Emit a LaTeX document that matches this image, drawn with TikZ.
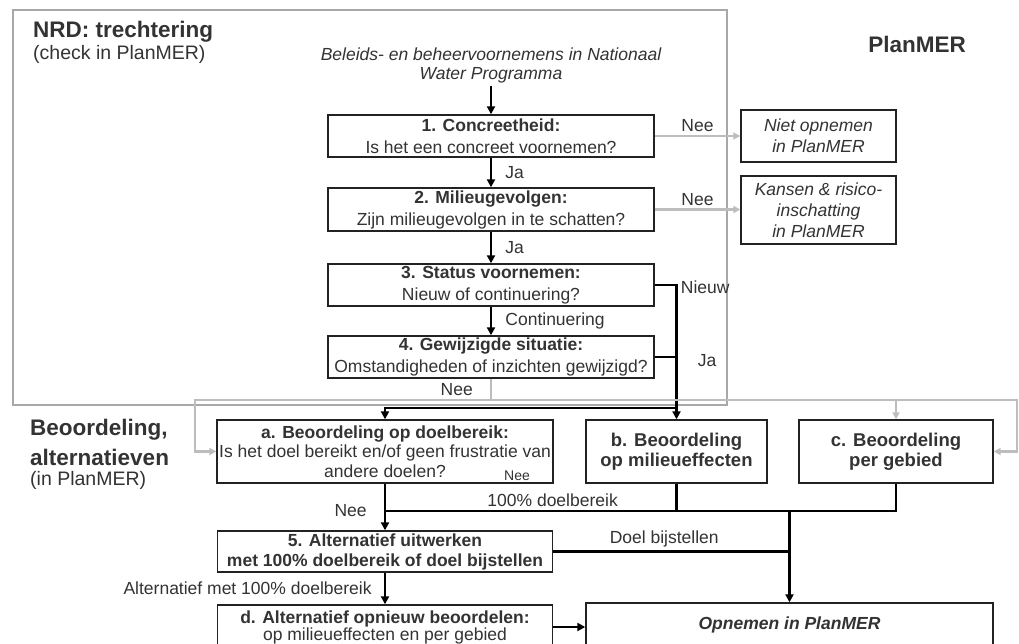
\documentclass[tikz,border=0pt]{standalone}
\usepackage{fontspec}
\setmainfont{Liberation Sans}
\usepackage{tikz}
\usetikzlibrary{arrows.meta}
\definecolor{txtgray}{HTML}{333333}
\definecolor{boxgray}{HTML}{222222}
\definecolor{linegray}{HTML}{BDBDBD}
\definecolor{framegray}{HTML}{A8A8A8}
\newcommand{\fs}[2]{\fontsize{#1}{#2}\selectfont}
\tikzset{
  box/.style={draw=boxgray, line width=1.4pt, rectangle, align=center, inner sep=1pt, text=txtgray, font=\fs{17.5}{22}},
  sidebox/.style={box, font=\fs{17.5}{21}\itshape},
  lbl/.style={text=txtgray, font=\fs{17.5}{20}, inner sep=3pt},
  blk/.style={black, line width=2.8pt, -{Triangle[length=8pt,width=8pt]}},
  blkline/.style={black, line width=2.8pt},
  gry/.style={linegray, line width=2.4pt, -{Triangle[length=7pt,width=7pt]}},
  gryline/.style={linegray, line width=2.4pt},
  title/.style={anchor=west, inner sep=0pt, text=txtgray, font=\fs{22.5}{26}\bfseries}
}

\begin{document}
\begin{tikzpicture}[x=1pt,y=-1pt]
  \clip (0,0) rectangle (1019,644);
  \fill[white] (0,0) rectangle (1019,644);

  % grey frame of the NRD part
  \draw[framegray, line width=1.5pt] (13,10) rectangle (727,405);

  % titles
  \node[title] (nrd) at (33,32) {NRD: trechtering};
  \node[title, font=\fs{19.5}{22}] (nrdsub) at (33,54) {(check in PlanMER)};
  \node[title, anchor=center] (pm) at (917,44) {PlanMER};
  \node[title] (beo1) at (30,430) {Beoordeling,};
  \node[title] (beo2) at (30,457) {alternatieven};
  \node[title, font=\fs{19.5}{22}] (beo3) at (30,480) {(in PlanMER)};

  % coordinates for the nodes
  \node[lbl, align=center, font=\fs{17.5}{19}\itshape] (inp) at (491,65) {Beleids- en beheervoornemens in Nationaal\\Water Programma};
  \node[box, minimum width=326pt, minimum height=42pt] (s1) at (491,136) {\textbf{1. Concreetheid:}\\Is het een concreet voornemen?};
  \node[box, minimum width=326pt, minimum height=43pt] (s2) at (491,209.5) {\textbf{2. Milieugevolgen:}\\Zijn milieugevolgen in te schatten?};
  \node[box, minimum width=326pt, minimum height=42pt] (s3) at (491,285) {\textbf{3. Status voornemen:}\\Nieuw of continuering?};
  \node[box, minimum width=326pt, minimum height=42pt] (s4) at (491,357) {\textbf{4. Gewijzigde situatie:}\\Omstandigheden of inzichten gewijzigd?};
  \node[sidebox, minimum width=155pt, minimum height=52pt] (niet) at (818.5,136) {Niet opnemen\\in PlanMER};
  \node[sidebox, minimum width=155pt, minimum height=68pt] (kans) at (818.5,210) {Kansen \& risico-\\inschatting\\in PlanMER};

  \node[box, font=\fs{17.5}{19.5}, minimum width=336pt, minimum height=63pt] (ba) at (385,451.5) {\textbf{a. Beoordeling op doelbereik:}\\Is het doel bereikt en/of geen frustratie van\\andere doelen?};
  \node[box, font=\fs{18.5}{20}\bfseries, minimum width=181pt, minimum height=63pt] (bb) at (676.5,451.5) {b. Beoordeling\\op milieueffecten};
  \node[box, font=\fs{18.5}{20}\bfseries, minimum width=194pt, minimum height=63pt] (bc) at (896,451.5) {c. Beoordeling\\per gebied};
  \node[box, font=\fs{17.5}{20}\bfseries, minimum width=335pt, minimum height=41pt] (s5) at (385,551.5) {5. Alternatief uitwerken\\met 100\% doelbereik of doel bijstellen};
  \node[box, font=\fs{17.5}{17}, minimum width=335pt, minimum height=44pt] (bd) at (385,627) {\textbf{d. Alternatief opnieuw beoordelen:}\\op milieueffecten en per gebied};
  \node[box, font=\fs{17.5}{20}\bfseries\itshape, minimum width=407pt, minimum height=44pt] (opn) at (789.5,625) {Opnemen in PlanMER};

  % trechter, ja-takken
  \draw[blk] (inp) -- (s1);
  \draw[blk] (s1) -- node[lbl, right, xshift=10pt]{Ja} (s2);
  \draw[blk] (s2) -- node[lbl, right, xshift=10pt]{Ja} (s3);
  \draw[blk] (s3) -- node[lbl, right, xshift=10pt]{Continuering} (s4);

  % nee-takken naar rechts
  \draw[gry] (s1) -- node[lbl, above, xshift=0pt]{Nee} (niet);
  \draw[gry] (s2.east) -- node[lbl, above]{Nee} (s2.east -| kans.west);

  % nieuw / ja naar beoordeling
  \coordinate (jn) at (676.5,408);
  \draw[blk] (s3.east) -| node[lbl, pos=0.5, anchor=west, yshift=-2pt]{Nieuw} (bb.north);
  \draw[blkline] (s4.east) -- (s4.east -| bb.north) node[lbl, anchor=west, xshift=17pt, yshift=-4pt]{Ja};
  \draw[blk] (jn) -| (ba.north);

  % nee van stap 4 naar a en c
  \coordinate (g0) at (491,400);
  \draw[gryline] (s4.south) -- node[lbl, left, xshift=-14pt]{Nee} (g0);
  \draw[gry] (g0) -- (195,400) |- (ba.west);
  \draw[gry] (g0) -- (1017,400) |- (bc.east);
  \draw[gry] (bc.north |- g0) -- (bc.north);

  % onderste deel
  \coordinate (jm) at (385,511);
  \node[lbl, font=\fs{14}{16}] (neea) at (517,476) {Nee};
  \draw[blk] (ba) -- node[lbl, left, xshift=-14pt, yshift=-4pt]{Nee} (s5);
  \draw[blkline] (bc.south) |- node[lbl, pos=0.836, above]{100\% doelbereik} (jm);
  \draw[blkline] (bb.south) -- (bb.south |- jm);
  \draw[blk] (opn.north |- jm) -- (opn.north);
  \draw[blkline] (s5.east) -- node[lbl, pos=0.47, above]{Doel bijstellen} (s5.east -| opn.north);
  \draw[blk] (s5) -- node[lbl, left, xshift=-9pt]{Alternatief met 100\% doelbereik} (bd);
  \draw[blk] (bd.east) -- (bd.east -| opn.west);
\end{tikzpicture}
\end{document}
